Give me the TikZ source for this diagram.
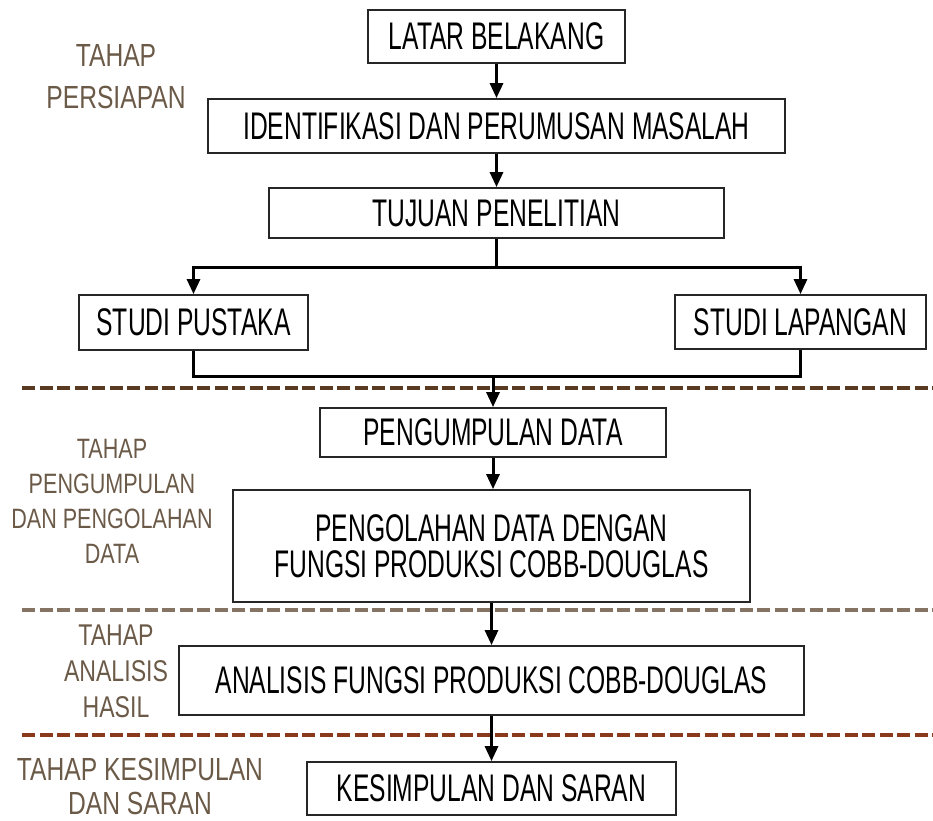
\documentclass[tikz,border=0pt]{standalone}
\usepackage{fontspec}
\setmainfont{Liberation Sans}
\newfontfamily\boxfont[FakeStretch=0.64]{Liberation Sans}
\newfontfamily\labfont[FakeStretch=0.77]{Liberation Sans}
\usetikzlibrary{arrows.meta}
\definecolor{labcol}{HTML}{6B5A48}
\definecolor{dashA}{HTML}{5A3A20}
\definecolor{dashB}{HTML}{857463}
\definecolor{dashC}{HTML}{8A3A1A}
\definecolor{boxcol}{HTML}{262626}
\begin{document}
\begin{tikzpicture}[x=1pt,y=-1pt,
  stepbox/.style={draw=boxcol,line width=1.8pt,inner sep=0pt,align=center,
    font=\boxfont\fontsize{38.5}{36}\selectfont},
  lab/.style={text=labcol,align=center,inner sep=0pt},
  conn/.style={line width=3pt,black},
  arr/.style={conn,-{Triangle[length=15pt,width=13pt]}},
  sep/.style={line width=4pt,dash pattern=on 13pt off 4.5pt}]
\useasboundingbox (0,0) rectangle (933,820);

% separators
\draw[sep,dashA] (22,388) -- (933,388);
\draw[sep,dashB] (22,610) -- (933,610);
\draw[sep,dashC] (22,735) -- (933,735);

% stage labels
\node[lab,font=\labfont\fontsize{32}{42}\selectfont] (l1) at (116,77) {TAHAP\\PERSIAPAN};
\node[lab,font=\labfont\fontsize{28}{35}\selectfont] (l2) at (112,501) {TAHAP\\PENGUMPULAN\\DAN PENGOLAHAN\\DATA};
\node[lab,font=\labfont\fontsize{30}{36}\selectfont] (l3) at (116,671) {TAHAP\\ANALISIS\\HASIL};
\node[lab,font=\labfont\fontsize{32}{34}\selectfont] (l4) at (140,786) {TAHAP KESIMPULAN\\DAN SARAN};

% boxes
\node[stepbox,minimum width=257pt,minimum height=53pt] (lat) at (496.5,36.5) {LATAR BELAKANG};
\node[stepbox,minimum width=577pt,minimum height=54pt] (ide) at (496.5,126) {IDENTIFIKASI DAN PERUMUSAN MASALAH};
\node[stepbox,minimum width=455pt,minimum height=50pt] (tuj) at (496.5,213) {TUJUAN PENELITIAN};
\node[stepbox,minimum width=229pt,minimum height=55pt] (pus) at (193.5,322.5) {STUDI PUSTAKA};
\node[stepbox,minimum width=251pt,minimum height=54pt] (lap) at (800.5,322) {STUDI LAPANGAN};
\node[stepbox,minimum width=346pt,minimum height=49pt] (pgm) at (493,432.5) {PENGUMPULAN DATA};
\node[stepbox,minimum width=517pt,minimum height=112pt] (pgl) at (491.5,546) {PENGOLAHAN DATA DENGAN\\FUNGSI PRODUKSI COBB-DOUGLAS};
\node[stepbox,minimum width=625pt,minimum height=69pt] (ana) at (491.5,680.5) {ANALISIS FUNGSI PRODUKSI COBB-DOUGLAS};
\node[stepbox,minimum width=369pt,minimum height=53pt] (kes) at (491.5,788.5) {KESIMPULAN DAN SARAN};

% connectors
\coordinate (br) at (496.5,267);
\coordinate (mg) at (493,376);
\draw[arr] (lat) -- (ide);
\draw[arr] (ide) -- (tuj);
\draw[conn] (tuj.south) -- (br);
\draw[arr] (br) -| (pus.north);
\draw[arr] (br) -| (lap.north);
\draw[conn] (pus.south) -- (pus.south |- mg) -- (lap.south |- mg) -- (lap.south);
\draw[arr] (mg) -- (pgm.north);
\draw[arr] (pgm.south) -- (pgm.south |- pgl.north);
\draw[arr] (pgl.south) -- (pgl.south |- ana.north);
\draw[arr] (ana.south) -- (ana.south |- kes.north);
\end{tikzpicture}
\end{document}
